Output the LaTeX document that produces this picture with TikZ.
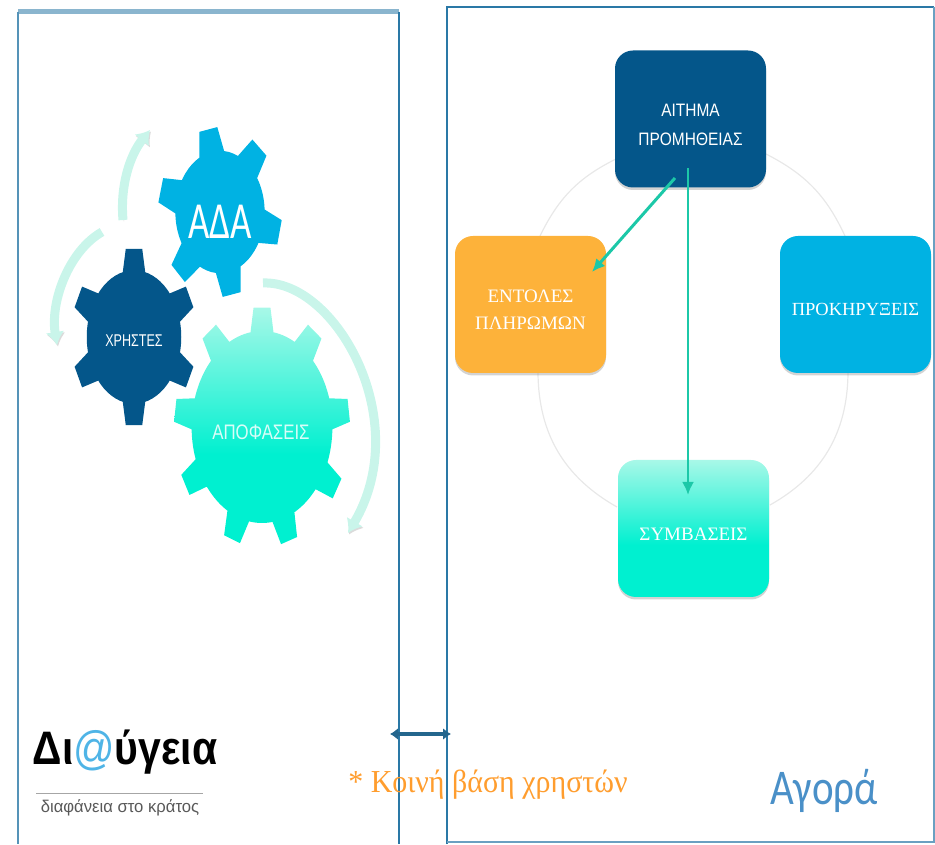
\documentclass[tikz,border=0pt]{standalone}
\usepackage{fontspec}
\setmainfont{Liberation Serif}
\setsansfont{Liberation Sans}
\newfontfamily\lightsans{Carlito}
\usetikzlibrary{arrows.meta,shadows}

\definecolor{navy}{HTML}{04568A}
\definecolor{skyblue}{HTML}{00B2E3}
\definecolor{amber}{HTML}{FDB23A}
\definecolor{teal}{HTML}{00F0D0}
\definecolor{palemint}{HTML}{A8F8E8}
\definecolor{ribbon}{HTML}{C9F5EA}
\definecolor{arrowteal}{HTML}{1CC8A8}
\definecolor{framed}{HTML}{2A78A6}
\definecolor{orangetxt}{HTML}{FF9D2E}
\definecolor{agora}{HTML}{4A90C8}
\definecolor{logoblue}{HTML}{4FB4E6}
\pgfdeclareverticalshading{tealfade}{100bp}{color(0bp)=(teal); color(44bp)=(teal); color(75bp)=(palemint); color(100bp)=(palemint)}

\tikzset{
  softshadow/.style={drop shadow={shadow xshift=0pt,shadow yshift=-2.5pt,opacity=.35}},
  box/.style={rounded corners=18pt, minimum width=151pt, minimum height=137pt, inner sep=0pt, softshadow},
  boxtext/.style={align=center, text=white, font=\fontsize{19}{27}\selectfont},
  rim/.style={draw=black!9, line width=1.2pt},
  ribbonarrow/.style={draw=ribbon, line width=9pt, -{Latex[length=13pt,width=19pt]},
    preaction={draw=black!14, transform canvas={xshift=1pt,yshift=-1.5pt}}},
  link/.style={draw=arrowteal, -{Latex[length=13pt,width=12pt]}},
}
% one path: hub plus teeth, scale it in a scope
\newcommand{\gearpath}[4]{(0,0) circle (#2)
  \foreach \a in {#1} {(\a-#4:#2-0.06) -- (\a-#3:1) -- (\a+#3:1) -- (\a+#4:#2-0.06) -- cycle}}

\begin{document}
\begin{tikzpicture}[x=1pt,y=1pt]
  \useasboundingbox (0,0) rectangle (935,844);

  % frames
  \draw [framed!55, line width=5pt] (18,832) -- (398.5,832);
  \draw [framed!80, line width=2pt] (18,832) -- (18,0);
  \draw [framed, line width=2pt] (398.5,832) -- (398.5,0);
  \draw [framed, line width=2.5pt] (447,0) -- (447,837) -- (934,837);
  \draw [framed!70, line width=1.5pt] (934,837) -- (934,2) -- (447,2);

  % gears
  \begin{scope}[shift={(220,632)}, xscale=62, yscale=85]
    \fill [skyblue] \gearpath{101,50,-14,-79,227,165}{0.72}{8.5}{19};
  \end{scope}
  \begin{scope}[shift={(134,507)}, xscale=63, yscale=89]
    \fill [navy] \gearpath{90,27,-27,-90,207,153}{0.75}{7.5}{16};
  \end{scope}
  \begin{scope}[shift={(262,417)}, xscale=88, yscale=120]
    \shade [shading=tealfade] \gearpath{90,53,127,8,172,-31,209,-72,250}{0.8}{5.5}{11};
  \end{scope}
  \node (ada) at (220,622) [text=white, font=\lightsans\fontsize{52}{52}\selectfont, xscale=.71] {ΑΔΑ};
  \node (xristes) at (134,503) [text=white, font=\sffamily\fontsize{17}{17}\selectfont, xscale=.74] {ΧΡΗΣΤΕΣ};
  \node (apofaseis) at (261,412) [text=white!85!teal, font=\sffamily\fontsize{21}{21}\selectfont, xscale=.8] {ΑΠΟΦΑΣΕΙΣ};

  % ribbons round the gears
  \coordinate (bigfrom) at (263,561);
  \coordinate (bigto) at (348,311);
  \coordinate (upfrom) at (123,624);
  \coordinate (upto) at (150,714);
  \coordinate (lowfrom) at (102,612);
  \coordinate (lowto) at (57,499);
  \draw [ribbonarrow] (bigfrom) .. controls (335,564) and (415,424) .. (bigto);
  \draw [ribbonarrow] (upfrom) .. controls (120,659) and (130,689) .. (upto);
  \draw [ribbonarrow] (lowfrom) .. controls (70,594) and (50,544) .. (lowto);

  % rim behind the boxes
  \coordinate (rimA) at (540,608);
  \coordinate (rimB) at (618,686);
  \coordinate (rimC) at (766,690);
  \coordinate (rimD) at (845,608);
  \coordinate (rimE) at (848,471);
  \coordinate (rimF) at (770,339);
  \coordinate (rimG) at (617,337);
  \coordinate (rimH) at (538,471);
  \draw [rim] (rimA) to [bend left=19] (rimB);
  \draw [rim] (rimC) to [bend left=19] (rimD);
  \draw [rim] (rimE) to [bend left=30] (rimF);
  \draw [rim] (rimG) to [bend left=30] (rimH);

  % boxes
  \node [box, fill=navy] (aitima) at (690.5,725) {};
  \node [box, fill=amber] (entoles) at (530.5,539.5) {};
  \node [box, fill=skyblue] (prokirixeis) at (855.5,539.5) {};
  \node [box, shading=tealfade] (symvaseis) at (693.5,315.5) {};
  \node [boxtext, font=\sffamily\fontsize{18}{29}\selectfont, xscale=.86] (aitimatxt) at ([yshift=-6pt]aitima) {ΑΙΤΗΜΑ\\ΠΡΟΜΗΘΕΙΑΣ};
  \node [boxtext] (entolestxt) at ([yshift=-5pt]entoles) {ΕΝΤΟΛΕΣ\\ΠΛΗΡΩΜΩΝ};
  \node [boxtext, font=\fontsize{18.5}{27}\selectfont] (prokirixeistxt) at ([yshift=-5pt]prokirixeis) {ΠΡΟΚΗΡΥΞΕΙΣ};
  \node [boxtext] (symvaseistxt) at ([yshift=-6pt]symvaseis) {ΣΥΜΒΑΣΕΙΣ};

  \coordinate (aitimaA) at (675,666);
  \coordinate (aitimaB) at (688,676);
  \coordinate (entolesIn) at (592,572);
  \coordinate (symvaseisIn) at (688,349);
  \draw [link, line width=3pt] (aitimaA) -- (entolesIn);
  \draw [link, line width=2.5pt] (aitimaB) -- (symvaseisIn);

  % shared base
  \coordinate (baseL) at (390,110);
  \coordinate (baseR) at (451,110);
  \draw [framed!85!black, line width=3.5pt, {Latex[length=8pt,width=12pt]}-{Latex[length=8pt,width=12pt]}] (baseL) -- (baseR);
  \node (basetxt) at (488,59) [text=orangetxt, font=\fontsize{32}{32}\selectfont, xscale=.936] {* Κοινή βάση χρηστών};
  \node (agoratxt) at (824,53) [text=agora, font=\lightsans\fontsize{50}{50}\selectfont, xscale=.82] {Αγορά};

  % logo
  \node (logo) at (125,92) [font=\sffamily\bfseries\fontsize{47}{47}\selectfont, xscale=.87, inner sep=0pt] {Δι{\mdseries\color{logoblue}@}ύγεια};
  \draw [black!35, line width=.7pt] (36,51) -- (203,51);
  \node (slogan) at (120,36) [text=black!65, font=\sffamily\fontsize{17}{17}\selectfont, xscale=.98, inner sep=0pt] {διαφάνεια στο κράτος};
\end{tikzpicture}
\end{document}
